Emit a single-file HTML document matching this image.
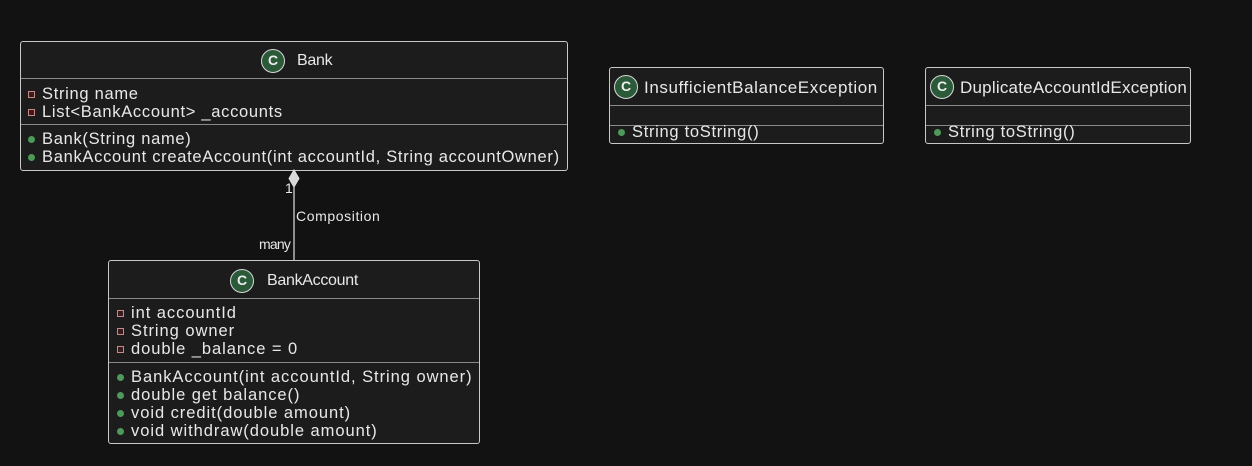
<!DOCTYPE html>
<html><head><meta charset="utf-8"><style>
html,body{margin:0;padding:0;background:#121212;}
body{width:1252px;height:466px;position:relative;overflow:hidden;font-family:"Liberation Sans",sans-serif;color:#e8e8e8;}
.box{position:absolute;background:#1c1c1c;border:1px solid #c8c8c8;border-radius:3px;box-sizing:border-box;}
.hr{position:absolute;left:0;right:0;height:1px;background:#8a8a8a;}
.t{position:absolute;font-size:16.5px;letter-spacing:0.7px;white-space:nowrap;line-height:18px;}
.ba .t{letter-spacing:0.95px;}
.priv{display:inline-block;width:7px;height:7px;border:1px solid #c98888;background:#3a1a1a;margin-right:7px;vertical-align:1px;box-sizing:border-box;}
.pub{display:inline-block;width:7px;height:7px;border-radius:50%;background:#4e9a5a;margin-right:7px;vertical-align:1px;}
.c{position:absolute;width:24px;height:24px;border-radius:50%;background:#2a5a38;border:1.5px solid #d8d8d8;box-sizing:border-box;color:#eee;font-size:14px;font-weight:bold;text-align:center;line-height:21px;letter-spacing:0;}
.title{position:absolute;font-size:16px;white-space:nowrap;letter-spacing:-0.3px;}
.etitle{position:absolute;font-size:17px;white-space:nowrap;letter-spacing:0.45px;}
.lab{position:absolute;font-size:14px;white-space:nowrap;}
</style></head><body>

<!-- Bank -->
<div class="box" style="left:20px;top:41px;width:548px;height:130px;">
  <div class="c" style="left:240px;top:7px;">C</div>
  <div class="title" style="left:276px;top:10px;">Bank</div>
  <div class="hr" style="top:36px;"></div>
  <div class="t" style="left:7px;top:43px;"><span class="priv"></span>String name</div>
  <div class="t" style="left:7px;top:61px;"><span class="priv"></span>List&lt;BankAccount&gt; _accounts</div>
  <div class="hr" style="top:82px;"></div>
  <div class="t" style="left:7px;top:88px;"><span class="pub"></span>Bank(String name)</div>
  <div class="t" style="left:7px;top:106px;"><span class="pub"></span>BankAccount createAccount(int accountId, String accountOwner)</div>
</div>

<!-- connector -->
<svg style="position:absolute;left:0;top:0" width="1252" height="466">
  <line x1="294" y1="187" x2="294" y2="260" stroke="#e0e0e0" stroke-width="1.2"/>
  <polygon points="294,170 299,178.5 294,187 289,178.5" fill="#d8d8d8" stroke="#e0e0e0"/>
</svg>
<div class="lab" style="left:285px;top:180px;">1</div>
<div class="lab" style="left:296px;top:208px;letter-spacing:0.6px;">Composition</div>
<div class="lab" style="left:259px;top:236px;letter-spacing:-0.8px;">many</div>

<!-- BankAccount -->
<div class="box ba" style="left:108px;top:260px;width:372px;height:184px;">
  <div class="c" style="left:121px;top:8px;">C</div>
  <div class="title" style="left:158px;top:11px;">BankAccount</div>
  <div class="hr" style="top:37px;"></div>
  <div class="t" style="left:8px;top:43px;"><span class="priv"></span>int accountId</div>
  <div class="t" style="left:8px;top:61px;"><span class="priv"></span>String owner</div>
  <div class="t" style="left:8px;top:79px;"><span class="priv"></span>double _balance = 0</div>
  <div class="hr" style="top:101px;"></div>
  <div class="t" style="left:8px;top:107px;"><span class="pub"></span>BankAccount(int accountId, String owner)</div>
  <div class="t" style="left:8px;top:125px;"><span class="pub"></span>double get balance()</div>
  <div class="t" style="left:8px;top:143px;"><span class="pub"></span>void credit(double amount)</div>
  <div class="t" style="left:8px;top:161px;"><span class="pub"></span>void withdraw(double amount)</div>
</div>

<!-- InsufficientBalanceException -->
<div class="box" style="left:609px;top:67px;width:275px;height:77px;">
  <div class="c" style="left:4px;top:7px;">C</div>
  <div class="etitle" style="left:34px;top:10px;letter-spacing:0.6px;">InsufficientBalanceException</div>
  <div class="hr" style="top:37px;"></div>
  <div class="hr" style="top:57px;"></div>
  <div class="t" style="left:8px;top:55px;"><span class="pub"></span>String toString()</div>
</div>

<!-- DuplicateAccountIdException -->
<div class="box" style="left:925px;top:67px;width:266px;height:77px;">
  <div class="c" style="left:4px;top:7px;">C</div>
  <div class="etitle" style="left:34px;top:10px;letter-spacing:0.22px;">DuplicateAccountIdException</div>
  <div class="hr" style="top:37px;"></div>
  <div class="hr" style="top:57px;"></div>
  <div class="t" style="left:8px;top:55px;"><span class="pub"></span>String toString()</div>
</div>

</body></html>
